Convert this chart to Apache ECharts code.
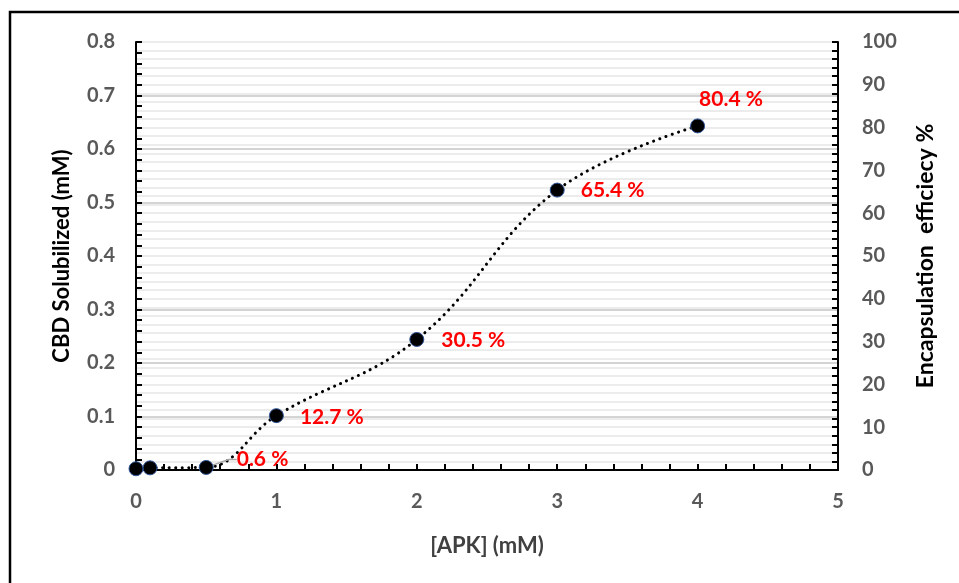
<!DOCTYPE html>
<html>
<head>
<meta charset="utf-8">
<script src="https://cdn.jsdelivr.net/npm/echarts@6/dist/echarts.min.js"></script>
<style>
  html, body { margin: 0; padding: 0; background: #fff; }
  #chart { width: 959px; height: 583px; }
</style>
</head>
<body>
<div id="chart"></div>
<script>
// APK concentration (mM)
const apk = [0, 0.1, 0.5, 1, 2, 3, 4];
// Encapsulation efficiency (%)
const efficiency = [0.3, 0.5, 0.6, 12.7, 30.5, 65.4, 80.4];
// Which points carry a percentage label
const labelled = [false, false, true, true, true, true, true];

const xTicks = { min: 0, max: 5, interval: 1 };
const leftTicks = { min: 0, max: 0.8, interval: 0.1 };
const rightTicks = { min: 0, max: 100, interval: 10 };

const FONT = 'Lato, "Open Sans", sans-serif';
const tickLabel = { color: '#595959', fontFamily: FONT, fontWeight: 'bold', fontSize: 20 };

// label offsets per point (dx, dy) from the default right-hand position
const labelShift = [[0, 0], [0, 0], [18, -8], [11, 2], [12, 1], [11, 0], [-11, -27]];

const points = apk.map((x, i) => ({
  value: [x, efficiency[i]],
  label: { show: labelled[i] },
  labelLine: { show: i === 2 }
}));

const chart = echarts.init(document.getElementById('chart'));
chart.setOption({
  animation: false,
  backgroundColor: '#ffffff',
  graphic: [{
    type: 'rect',
    shape: { x: 10, y: 12, width: 1000, height: 1000 },
    style: { fill: 'none', stroke: '#000', lineWidth: 2.5 },
    z: 100
  }],
  grid: { left: 136, right: 121, top: 42, bottom: 113 },
  xAxis: {
    type: 'value',
    min: xTicks.min, max: xTicks.max, interval: xTicks.interval,
    name: '[APK] (mM)',
    nameLocation: 'middle',
    nameGap: 65,
    nameTextStyle: { color: '#404040', fontFamily: FONT, fontWeight: 'bold', fontSize: 22, letterSpacing: 1 },
    axisLine: { lineStyle: { color: '#000', width: 2 } },
    axisTick: { inside: true, length: 6, lineStyle: { color: '#000', width: 2 } },
    minorTick: { show: true, splitNumber: 5, length: 6, lineStyle: { color: '#000', width: 2 } },
    splitLine: { show: false },
    axisLabel: Object.assign({ margin: 22 }, tickLabel)
  },
  yAxis: [{
    type: 'value',
    position: 'left',
    min: leftTicks.min, max: leftTicks.max, interval: leftTicks.interval,
    name: 'CBD Solubilized (mM)',
    nameLocation: 'middle',
    nameGap: 63,
    nameTextStyle: { color: '#000', fontFamily: FONT, fontWeight: 'bold', fontSize: 22 },
    axisLine: { show: true, lineStyle: { color: '#000', width: 2 } },
    axisTick: { inside: true, length: 6, lineStyle: { color: '#000', width: 2 } },
    minorTick: { show: true, splitNumber: 5, length: 6, lineStyle: { color: '#000', width: 2 } },
    splitLine: { show: true, lineStyle: { color: '#d4d4d4', width: 2 } },
    axisLabel: Object.assign({ margin: 21, formatter: v => (v === 0 ? '0' : v.toFixed(1)) }, tickLabel)
  }, {
    type: 'value',
    position: 'right',
    min: rightTicks.min, max: rightTicks.max, interval: rightTicks.interval,
    name: 'Encapsulation  efficiecy %',
    nameLocation: 'middle',
    nameGap: 76,
    nameRotate: 90,
    nameTextStyle: { color: '#000', fontFamily: FONT, fontWeight: 'bold', fontSize: 23 },
    axisLine: { show: true, lineStyle: { color: '#000', width: 2 } },
    axisTick: { inside: true, length: 6, lineStyle: { color: '#000', width: 2 } },
    minorTick: { show: true, splitNumber: 5, length: 6, lineStyle: { color: '#000', width: 2 } },
    splitLine: { show: true, lineStyle: { color: '#ececec', width: 2 } },
    minorSplitLine: { show: true, lineStyle: { color: '#ececec', width: 2 } },
    axisLabel: Object.assign({ margin: 24 }, tickLabel)
  }],
  series: [{
    type: 'line',
    yAxisIndex: 1,
    data: points,
    smooth: 0.4,
    symbol: 'circle',
    symbolSize: 14,
    itemStyle: { color: '#000', borderColor: '#2f5597', borderWidth: 1 },
    lineStyle: { color: '#000', width: 3, type: [0.1, 6.5], cap: 'round' },
    label: {
      position: 'right',
      distance: 5,
      color: '#ff0000',
      fontFamily: FONT,
      fontWeight: 'bold',
      fontSize: 21,
      formatter: p => p.value[1] + ' %'
    },
    labelLine: { show: true, minTurnAngle: 0, length2: 8, lineStyle: { color: '#a6a6a6', width: 1.5 } },
    labelLayout: p => ({ dx: labelShift[p.dataIndex][0], dy: labelShift[p.dataIndex][1] }),
    z: 5
  }]
});
</script>
</body>
</html>
